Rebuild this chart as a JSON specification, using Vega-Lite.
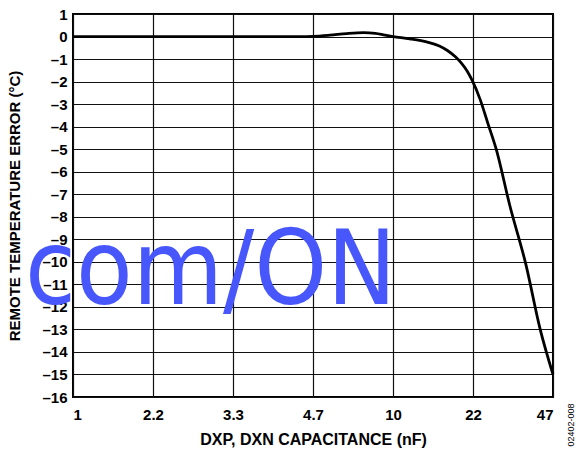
{
  "$schema": "https://vega.github.io/schema/vega-lite/v6.json",
  "width": 480,
  "height": 383,
  "autosize": "none",
  "padding": {"left": 73, "top": 14, "right": 29, "bottom": 53},
  "background": "white",
  "config": {
    "view": {"stroke": "black", "strokeWidth": 2},
    "font": "Liberation Sans",
    "axis": {
      "labelFont": "Liberation Sans",
      "labelFontWeight": "bold",
      "labelFontSize": 15,
      "labelColor": "black",
      "labelOverlap": false,
      "titleFont": "Liberation Sans",
      "titleFontWeight": "bold",
      "titleColor": "black",
      "ticks": false,
      "domain": false,
      "grid": true,
      "gridColor": "#111111",
      "gridOpacity": 1,
      "gridWidth": 1.2
    },
    "axisY": {"labelOverlap": false}
  },
  "datasets": {
    "curve": [
      {"pos": 0, "error": 0},
      {"pos": 1, "error": 0},
      {"pos": 2, "error": 0},
      {"pos": 2.84, "error": 0},
      {"pos": 3.0, "error": 0.01},
      {"pos": 3.21, "error": 0.06},
      {"pos": 3.42, "error": 0.13},
      {"pos": 3.63, "error": 0.17},
      {"pos": 3.78, "error": 0.14},
      {"pos": 3.9, "error": 0.06},
      {"pos": 4.0, "error": 0},
      {"pos": 4.21, "error": -0.1},
      {"pos": 4.43, "error": -0.25},
      {"pos": 4.58, "error": -0.42},
      {"pos": 4.68, "error": -0.62},
      {"pos": 4.78, "error": -0.9},
      {"pos": 4.86, "error": -1.2},
      {"pos": 4.93, "error": -1.55},
      {"pos": 4.99, "error": -1.95},
      {"pos": 5.09, "error": -2.8},
      {"pos": 5.19, "error": -3.9},
      {"pos": 5.29, "error": -5.0},
      {"pos": 5.46, "error": -7.5},
      {"pos": 5.66, "error": -10.1},
      {"pos": 5.84, "error": -13.0},
      {"pos": 6.0, "error": -15.0}
    ],
    "watermark": [{"pos": -0.6, "error": -11.85, "label": "com/ON"}],
    "code": [{"pos": 6.225, "error": -17.24, "label": "02402-008"}]
  },
  "layer": [
    {
      "data": {"name": "curve"},
      "mark": {"type": "line", "color": "black", "strokeWidth": 2.8, "interpolate": "monotone", "clip": false},
      "encoding": {
        "x": {
          "field": "pos",
          "type": "quantitative",
          "scale": {"domain": [0, 6], "nice": false, "zero": false},
          "axis": {
            "values": [0, 1, 2, 3, 4, 5, 6],
            "tickCount": 7,
            "labelExpr": "['1','2.2','3.3','4.7','10','22','47'][datum.value]",
            "labelOverlap": false,
            "labelPadding": 10,
            "title": "DXP, DXN CAPACITANCE (nF)",
            "titleFontSize": 16,
            "titlePadding": 9
          }
        },
        "y": {
          "field": "error",
          "type": "quantitative",
          "scale": {"domain": [-16, 1], "nice": false, "zero": false},
          "axis": {
            "values": [1, 0, -1, -2, -3, -4, -5, -6, -7, -8, -9, -10, -11, -12, -13, -14, -15, -16],
            "tickCount": 18,
            "labelExpr": "datum.value < 0 ? '\u2013' + abs(datum.value) : '' + datum.value",
            "labelOverlap": false,
            "labelBound": false,
            "labelPadding": 6,
            "title": "REMOTE TEMPERATURE ERROR (\u00b0C)",
            "titleFontSize": 15,
            "titlePadding": 19
          }
        }
      }
    },
    {
      "data": {"name": "watermark"},
      "mark": {"type": "text", "align": "left", "baseline": "alphabetic", "font": "DejaVu Sans Condensed", "fontSize": 103, "color": "#4757fb"},
      "encoding": {
        "x": {"field": "pos", "type": "quantitative"},
        "y": {"field": "error", "type": "quantitative"},
        "text": {"field": "label"}
      }
    },
    {
      "data": {"name": "code"},
      "mark": {"type": "text", "align": "center", "baseline": "middle", "angle": 270, "fontSize": 9, "color": "black"},
      "encoding": {
        "x": {"field": "pos", "type": "quantitative"},
        "y": {"field": "error", "type": "quantitative"},
        "text": {"field": "label"}
      }
    }
  ]
}
